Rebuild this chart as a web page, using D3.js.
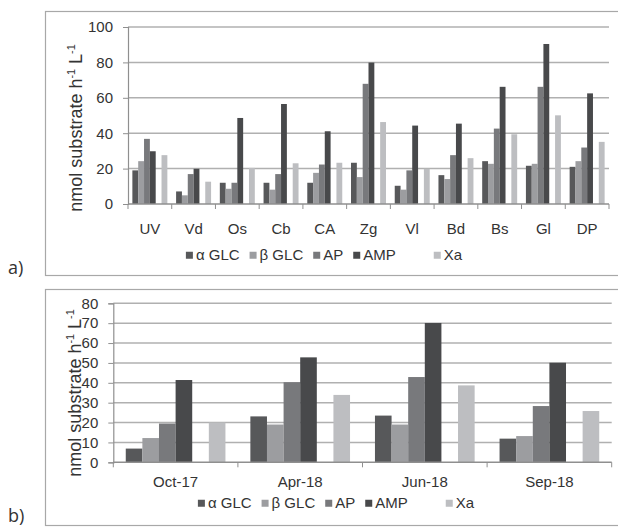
<!DOCTYPE html>
<html>
<head>
<meta charset="utf-8">
<script src="https://cdn.jsdelivr.net/npm/d3@7"></script>
<style>
  body { margin: 0; background: #fff; }
  svg { display: block; }
  text { font-family: "Liberation Sans", Arial, sans-serif; fill: #333; }
</style>
</head>
<body>
<div id="container"></div>
<script>
// series keys; the empty "" slot is the blank series Excel left between AMP and Xa
const seriesKeys = ['α GLC', 'β GLC', 'AP', 'AMP', '', 'Xa']
const seriesColours = {
  'α GLC': '#57585a',
  'β GLC': '#9c9da0',
  'AP': '#78797c',
  'AMP': '#48494b',
  '': 'none',
  'Xa': '#bdbec1'
}

// panel a) sites
const sites = ['UV', 'Vd', 'Os', 'Cb', 'CA', 'Zg', 'Vl', 'Bd', 'Bs', 'Gl', 'DP']
const siteAlpha = [19, 7.1, 12, 12, 12, 23.3, 10.3, 16.3, 24.2, 21.6, 21]
const siteBeta = [24.2, 4.9, 8.6, 8.1, 17.6, 15.2, 8.1, 14.1, 22.7, 22.7, 24.2]
const siteAP = [36.8, 16.9, 12, 16.9, 22.3, 67.9, 19, 27.6, 42.6, 66.2, 31.9]
const siteAMP = [29.8, 19.9, 48.6, 56.5, 41.1, 79.9, 44.3, 45.4, 66.2, 90.4, 62.5]
const siteXa = [27.6, 12.6, 20.4, 23, 23.3, 46.3, 19.9, 25.9, 39.4, 50.1, 35.1]
const siteTicks = [0, 20, 40, 60, 80, 100]

// panel b) sampling dates
const dates = ['Oct-17', 'Apr-18', 'Jun-18', 'Sep-18']
const dateAlpha = [6.9, 23.1, 23.5, 11.9]
const dateBeta = [12.2, 19, 19, 13.2]
const dateAP = [19.5, 40.3, 42.9, 28.3]
const dateAMP = [41.4, 52.8, 70.1, 50.1]
const dateXa = [20, 33.9, 38.7, 25.8]
const dateTicks = [0, 10, 20, 30, 40, 50, 60, 70, 80]

const w = 618
const h = 527

const svg = d3.select('#container')
  .append('svg')
  .attr('width', w)
  .attr('height', h)

const buildRows = (cats, a, b, ap, amp, xa) => {
  return cats.map((c, i) => ({
    cat: c,
    'α GLC': a[i], 'β GLC': b[i], 'AP': ap[i], 'AMP': amp[i], '': 0, 'Xa': xa[i]
  }))
}

const drawPanel = (opt) => {
  const rows = buildRows(opt.cats, ...opt.values)

  // frame runs off the right edge like in the scan
  svg.append('rect')
    .attr('x', 45.5).attr('y', opt.frameTop + 0.5)
    .attr('width', 640).attr('height', opt.frameBottom - opt.frameTop)
    .attr('fill', 'none').attr('stroke', '#a8a8a8').attr('stroke-width', 1.2)

  const x = d3.scaleBand().domain(opt.cats).range([opt.left, opt.right]).padding(0)
  const inner = d3.scaleBand().domain(seriesKeys).range([0, x.bandwidth()])
    .paddingInner(0).paddingOuter(0.75)
  const y = d3.scaleLinear().domain([0, opt.max]).range([opt.bottom, opt.top])

  const g = svg.append('g')

  // gridlines
  g.selectAll('.grid')
    .data(opt.ticks.slice(1))
    .enter()
    .append('line')
    .attr('x1', opt.left).attr('x2', opt.right)
    .attr('y1', (d) => y(d)).attr('y2', (d) => y(d))
    .attr('stroke', '#b0b0b0').attr('stroke-width', 1.5)

  // bars
  const group = g.selectAll('.grp')
    .data(rows)
    .enter()
    .append('g')
    .attr('transform', (d) => 'translate(' + x(d.cat) + ',0)')

  group.selectAll('rect')
    .data((d) => seriesKeys.filter((k) => k !== '').map((k) => ({ key: k, value: d[k] })))
    .enter()
    .append('rect')
    .attr('x', (d) => inner(d.key))
    .attr('width', inner.bandwidth())
    .attr('y', (d) => y(d.value))
    .attr('height', (d) => y(0) - y(d.value))
    .attr('fill', (d) => seriesColours[d.key])

  // y axis
  const yAxis = g.append('g')
    .attr('transform', 'translate(' + opt.left + ',0)')
    .call(d3.axisLeft(y).tickValues(opt.ticks).tickSize(5).tickPadding(opt.tickPad))
  yAxis.select('.domain').attr('stroke', '#8f8f8f').attr('stroke-width', 1.2)
  yAxis.selectAll('.tick line').attr('stroke', '#8f8f8f')
  yAxis.selectAll('text')
    .style('font-size', opt.tickFont + 'px')
    .style('font-family', '"Liberation Sans", Arial, sans-serif')
    .attr('fill', '#333')

  // x axis: ticks sit on category boundaries
  const xAxis = g.append('g')
    .attr('transform', 'translate(0,' + opt.bottom + ')')
  xAxis.append('line')
    .attr('x1', opt.left).attr('x2', opt.right)
    .attr('stroke', '#8f8f8f').attr('stroke-width', 1.5)
  xAxis.selectAll('.bnd')
    .data(opt.cats.concat(['end']))
    .enter()
    .append('line')
    .attr('x1', (d, i) => opt.left + i * x.step())
    .attr('x2', (d, i) => opt.left + i * x.step())
    .attr('y1', 0).attr('y2', 5)
    .attr('stroke', '#8f8f8f')
  xAxis.selectAll('.lab')
    .data(opt.cats)
    .enter()
    .append('text')
    .attr('x', (d) => x(d) + x.bandwidth() / 2)
    .attr('y', opt.catY - opt.bottom)
    .attr('text-anchor', 'middle')
    .style('font-size', opt.catFont + 'px')
    .text((d) => d)

  // y title
  const sup = opt.titleFont * 0.6
  const title = svg.append('text')
    .attr('transform', 'translate(' + opt.titleX + ',' + opt.titleY + ') rotate(-90)')
    .attr('text-anchor', 'middle')
    .style('font-size', opt.titleFont + 'px')
  title.append('tspan').text('nmol substrate h')
  title.append('tspan').attr('dy', -7).style('font-size', sup + 'px').text('-1')
  title.append('tspan').attr('dy', 7).text(' L')
  title.append('tspan').attr('dy', -7).style('font-size', sup + 'px').text('-1')

  // legend
  const legend = svg.append('g')
  let cursor = 0
  seriesKeys.forEach((k) => {
    const item = legend.append('g').attr('transform', 'translate(' + cursor + ',0)')
    if (k === '') {
      cursor += opt.blankGap
      return
    }
    item.append('rect')
      .attr('x', 0).attr('y', -opt.legendFont * 0.55)
      .attr('width', 7).attr('height', 7)
      .attr('fill', seriesColours[k])
    const t = item.append('text')
      .attr('x', 10).attr('y', 0)
      .style('font-size', opt.legendFont + 'px')
      .text(k)
    cursor += 10 + t.node().getComputedTextLength() + opt.itemGap
  })
  const total = cursor - opt.itemGap
  legend.attr('transform', 'translate(' + (opt.legendCx - total / 2) + ',' + opt.legendY + ')')

  svg.append('text')
    .attr('x', 8).attr('y', opt.tagY)
    .style('font-family', '"Open Sans", sans-serif')
    .style('font-size', '18px')
    .text(opt.tag)
}

drawPanel({
  cats: sites,
  values: [siteAlpha, siteBeta, siteAP, siteAMP, siteXa],
  ticks: siteTicks, max: 100,
  left: 128, right: 609, top: 27, bottom: 204,
  frameTop: 11, frameBottom: 275,
  tickPad: 10, tickFont: 15, catFont: 15, catY: 234,
  titleX: 82, titleY: 128, titleFont: 18,
  legendCx: 324, legendY: 260, legendFont: 15, itemGap: 10, blankGap: 28,
  tag: 'a)', tagY: 274
})

drawPanel({
  cats: dates,
  values: [dateAlpha, dateBeta, dateAP, dateAMP, dateXa],
  ticks: dateTicks, max: 80,
  left: 113.3, right: 611.7, top: 303.3, bottom: 462.3,
  frameTop: 289, frameBottom: 525,
  tickPad: 10, tickFont: 15, catFont: 15, catY: 487,
  titleX: 81, titleY: 393, titleFont: 18,
  legendCx: 336, legendY: 508, legendFont: 15, itemGap: 10, blankGap: 28,
  tag: 'b)', tagY: 522
})
</script>
</body>
</html>
